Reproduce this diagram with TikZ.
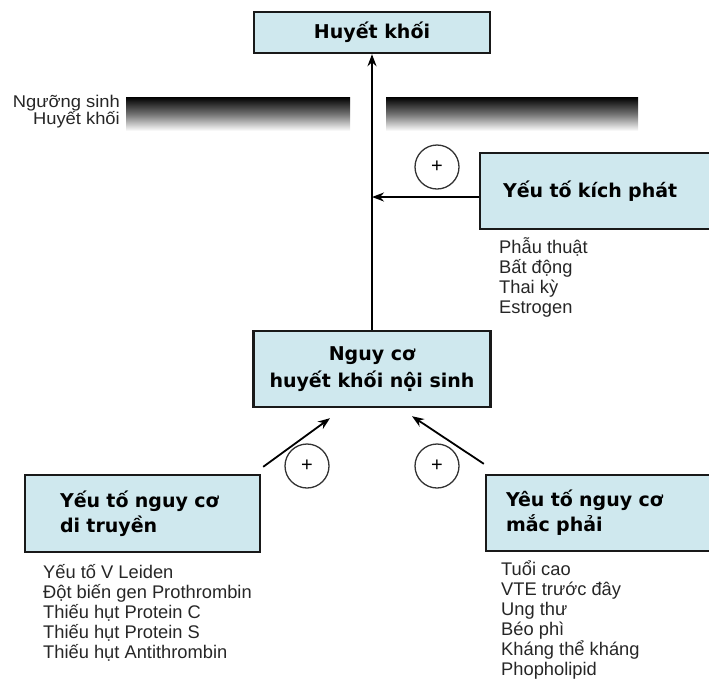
\documentclass[tikz,border=0pt]{standalone}
\usepackage{fontspec}
\setmainfont{Liberation Sans}
\newfontfamily\boxfont{DejaVu Sans}
\newfontfamily\lstfont{Liberation Sans}
\newfontfamily\lblfont{Liberation Sans}[FakeStretch=1.08]
\usetikzlibrary{arrows.meta}
\definecolor{boxfill}{RGB}{207,232,238}
\begin{document}
\begin{tikzpicture}[x=1pt,y=-1pt,
  box/.style={draw=black!90, line width=2.4pt, fill=boxfill, inner sep=0pt,
    font=\boxfont\bfseries\fontsize{19}{25}\selectfont},
  arr/.style={line width=1.8pt, -{Stealth[length=12pt,width=9pt]}},
  plus/.style={circle, draw=black!80, line width=1.3pt, minimum size=44pt, inner sep=0pt,
    font=\fontsize{20}{20}\selectfont},
  item/.style={anchor=base west, inner sep=0pt, text=black!85, font=\lstfont\fontsize{18.3}{20}\selectfont}]
\useasboundingbox (0,0) rectangle (709,681);
% threshold bars
\shade[top color=black, bottom color=white, middle color=black!55] (126,97) rectangle (350,131);
\shade[top color=black, bottom color=white, middle color=black!55] (386,97) rectangle (638,131);
\node[anchor=east, align=right, inner sep=0pt, text=black!85,
  font=\lblfont\fontsize{17}{17}\selectfont] (thr) at (120,112) {Ngưỡng sinh\\Huyết khối};
% boxes
\node[box, minimum width=236pt, minimum height=41pt] (top) at (372,32.5) {Huyết khối};
\node[box, minimum width=237pt, minimum height=76pt, align=center,
  font=\boxfont\bfseries\fontsize{19}{27}\selectfont] (mid) at (372,369) {Nguy cơ\\huyết khối nội sinh};
\node[box, minimum height=76pt, text width=186pt, inner xsep=23pt, align=left] (trig) at (596,191) {Yếu tố kích phát};
\node[box, minimum height=77pt, text width=165pt, inner xsep=35pt, align=left] (gen) at (142.5,513.5) {Yếu tố nguy cơ\\di truyền};
\node[box, minimum height=76pt, text width=186pt, inner xsep=20pt, align=left] (acq) at (599,513) {Yêu tố nguy cơ\\mắc phải};
% plus circles
\node[plus] (p1) at (437,167) {+};
\node[plus] (p2) at (307,466) {+};
\node[plus] (p3) at (437,466) {+};
% arrows
\draw[arr] (mid.north) -- (top.south);
\coordinate (tw) at ([yshift=-6pt]trig.west);
\draw[arr] (tw) -- (tw -| mid.north);
\draw[arr] ([shift={(2pt,7pt)}]gen.north east) -- ([shift={(-42pt,-10pt)}]mid.south);
\draw[arr] ([shift={(-1pt,10pt)}]acq.north west) -- ([shift={(40pt,-8pt)}]mid.south);
% lists
\foreach \t [count=\i] in {Phẫu thuật, Bất động, Thai kỳ, Estrogen}
  \node[item] (k\i) at (499,{233+20*\i}) {\t};
\foreach \t [count=\i] in {Yếu tố V Leiden, Đột biến gen Prothrombin, Thiếu hụt Protein C, Thiếu hụt Protein S, Thiếu hụt Antithrombin}
  \node[item] (g\i) at (43,{558+20*\i}) {\t};
\foreach \t [count=\i] in {Tuổi cao, VTE trước đây, Ung thư, Béo phì, Kháng thể kháng, Phopholipid}
  \node[item] (a\i) at (501,{555+20*\i}) {\t};
\end{tikzpicture}
\end{document}
